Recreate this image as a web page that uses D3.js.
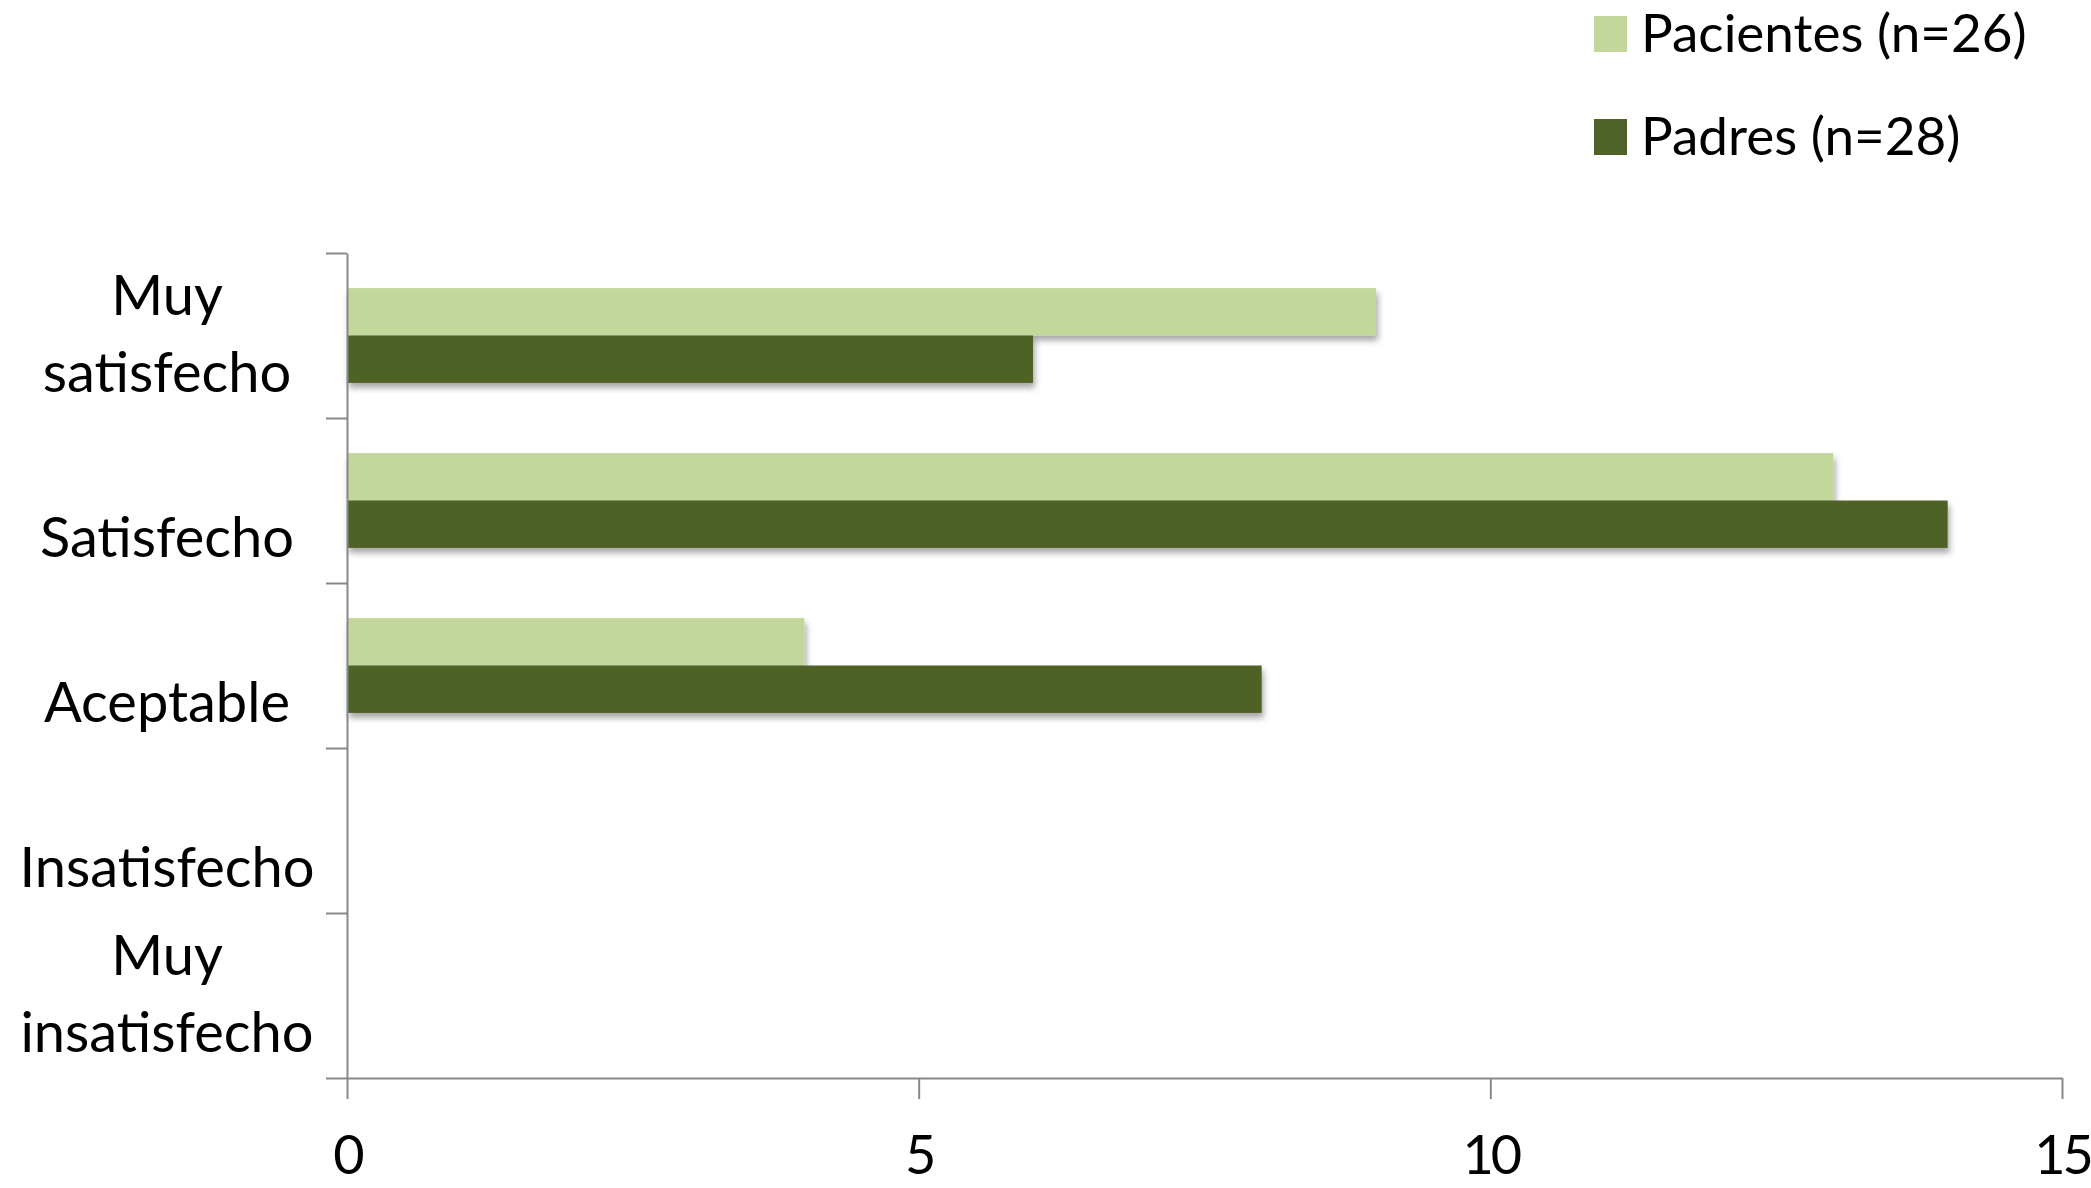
<!DOCTYPE html>
<html lang="es">
<head>
<meta charset="UTF-8">
<title>Satisfacción</title>
<script src="https://d3js.org/d3.v7.min.js"></script>
<style>
    html, body { margin: 0; padding: 0; background: #fff; }
    svg text { font-family: Lato, "Open Sans", sans-serif; fill: #000; }
</style>
</head>
<body>
<div id="chart"></div>
<script>
    // data
    var categories = ["Muy\nsatisfecho", "Satisfecho", "Aceptable", "Insatisfecho", "Muy\ninsatisfecho"];
    var seriesNames = ["Pacientes (n=26)", "Padres (n=28)"];
    var pacientes = [9, 13, 4, 0, 0];
    var padres = [6, 14, 8, 0, 0];
    var xTicks = [0, 5, 10, 15];
    var colors = ["#C4D79B", "#4F6228"];

    var W = 2091, H = 1188;
    var svg = d3.select("#chart").append("svg")
        .attr("width", W)
        .attr("height", H);

    // soft shadow under the bars
    var defs = svg.append("defs");
    var f = defs.append("filter").attr("id", "shadow")
        .attr("x", "-5%").attr("y", "-20%").attr("width", "110%").attr("height", "160%");
    f.append("feDropShadow")
        .attr("dx", 2).attr("dy", 5).attr("stdDeviation", 3)
        .attr("flood-color", "#000").attr("flood-opacity", 0.35);

    var x = d3.scaleLinear().domain([0, 15]).range([347, 2062]);
    var y = d3.scaleBand().domain(d3.range(categories.length)).range([253, 1078]).padding(0);
    var yInner = d3.scaleBand().domain([0, 1]).range([0, y.bandwidth()])
        .paddingInner(0).paddingOuter(0.74);
    var yIdx = d3.scaleLinear().domain([0, categories.length]).range([253, 1078]);

    var rows = categories.map(function (c, i) {
        return { cat: c, i: i, vals: [pacientes[i], padres[i]] };
    });

    // bars
    var g = svg.append("g").attr("filter", "url(#shadow)");
    rows.forEach(function (r) {
        g.selectAll(null)
            .data(r.vals.map(function (v, s) { return { v: v, s: s }; }).filter(function (d) { return d.v > 0; }))
            .enter()
            .append("rect")
            .attr("x", x(0))
            .attr("y", function (d) { return y(r.i) + yInner(d.s); })
            .attr("width", function (d) { return x(d.v) - x(0); })
            .attr("height", yInner.bandwidth())
            .attr("fill", function (d) { return colors[d.s]; });
    });

    // y axis (ticks at band boundaries)
    var yAxis = svg.append("g")
        .attr("transform", "translate(" + x(0) + ",0)")
        .call(d3.axisLeft(yIdx).tickValues(d3.range(categories.length + 1))
            .tickFormat("").tickSize(21).tickSizeOuter(0));

    // x axis
    var xAxis = svg.append("g")
        .attr("transform", "translate(0," + yIdx(categories.length) + ")")
        .call(d3.axisBottom(x).tickValues(xTicks).tickSize(21).tickSizeOuter(0));
    xAxis.selectAll("text")
        .attr("y", 96).attr("dy", 0)
        .style("font-size", "54px")
        .style("letter-spacing", "-3px")
        .style("font-family", "Lato, 'Open Sans', sans-serif")
        .attr("fill", "#000");

    svg.selectAll(".domain, .tick line")
        .attr("stroke", "#888").attr("stroke-width", 2);

    // category labels, last line baseline 55px below band centre
    var lineH = 77;
    rows.forEach(function (r) {
        var lines = r.cat.split("\n");
        var base = y(r.i) + y.bandwidth() / 2 + 56;
        var t = svg.append("text")
            .attr("text-anchor", "middle")
            .style("font-size", "56px");
        lines.forEach(function (l, k) {
            t.append("tspan")
                .attr("x", 167)
                .attr("y", base - (lines.length - 1 - k) * lineH)
                .text(l);
        });
    });

    // legend
    var legY = [52, 155];
    var leg = svg.append("g");
    seriesNames.forEach(function (n, s) {
        leg.append("rect")
            .attr("x", 1594).attr("y", legY[s] - 36)
            .attr("width", 33).attr("height", 36)
            .attr("fill", colors[s]);
        leg.append("text")
            .attr("x", 1641).attr("y", legY[s])
            .style("font-size", "53px")
            .text(n);
    });
</script>
</body>
</html>
